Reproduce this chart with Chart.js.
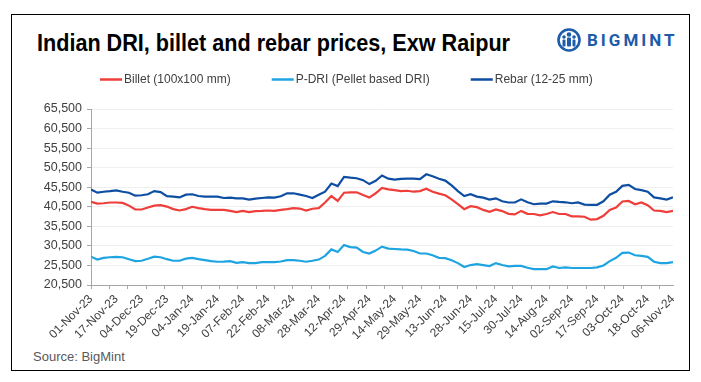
<!DOCTYPE html>
<html>
<head>
<meta charset="utf-8">
<script src="https://cdn.jsdelivr.net/npm/chart.js@4.4.1/dist/chart.umd.min.js"></script>
<style>
html,body{margin:0;padding:0;background:#fff;}
#wrap{position:relative;width:701px;height:382px;overflow:hidden;background:#fff;}
#frame{position:absolute;left:11px;top:14px;width:679px;height:357px;border:1.5px solid #000;box-sizing:border-box;}
#title{position:absolute;left:37px;top:32px;font:bold 23px "Liberation Sans",Arial,sans-serif;color:#000;white-space:nowrap;transform-origin:0 0;line-height:1;}
#logo{position:absolute;left:557px;top:27px;height:26px;display:flex;align-items:center;}
#logoText{font:bold 17px Roboto,"Liberation Sans",sans-serif;color:#1d5cab;letter-spacing:3px;margin-left:6px;}
#source{position:absolute;left:33px;top:349px;font:13px "Liberation Sans",Arial,sans-serif;color:#595959;}
canvas{position:absolute;left:0;top:0;}
</style>
</head>
<body>
<div id="wrap">
  <div id="frame"></div>
  <div id="title">Indian DRI, billet and rebar prices, Exw Raipur</div>
  <div id="logo">
    <svg width="24" height="26" viewBox="0 0 24 26">
      <circle cx="12" cy="13" r="10.5" fill="none" stroke="#1d5cab" stroke-width="2.6"/>
      <circle cx="12" cy="7.5" r="2.3" fill="#1d5cab"/>
      <circle cx="7" cy="10" r="1.8" fill="#1d5cab"/>
      <circle cx="17" cy="10" r="1.8" fill="#1d5cab"/>
      <rect x="10" y="10.5" width="4" height="9" rx="1" fill="#1d5cab"/>
      <rect x="5.5" y="12.5" width="3" height="7" rx="1" fill="#1d5cab"/>
      <rect x="15.5" y="12.5" width="3" height="7" rx="1" fill="#1d5cab"/>
    </svg>
    <span id="logoText">BIGMINT</span>
  </div>
  <div id="source">Source: BigMint</div>
  <canvas id="c" width="701" height="382"></canvas>
</div>
<script>
// ---- data ----
const seriesNames = ["Billet (100x100 mm)", "P-DRI (Pellet based DRI)", "Rebar (12-25 mm)"];
const dateLabels = ["01-Nov-23","17-Nov-23","04-Dec-23","19-Dec-23","04-Jan-24","19-Jan-24","07-Feb-24","22-Feb-24",
  "08-Mar-24","28-Mar-24","12-Apr-24","29-Apr-24","14-May-24","29-May-24","13-Jun-24","28-Jun-24",
  "15-Jul-24","30-Jul-24","14-Aug-24","02-Sep-24","17-Sep-24","03-Oct-24","18-Oct-24","06-Nov-24"];
const yTicks = [20500,25500,30500,35500,40500,45500,50500,55500,60500,65500];

const billet = [41750,41300,41400,41600,41600,41500,40800,39800,39800,40300,40800,40900,40550,39900,39550,39900,
  40500,40150,39900,39700,39700,39700,39450,39150,39450,39150,39400,39450,39550,39450,39700,39900,
  40150,40050,39550,40000,40150,41600,43250,42000,44100,44200,44200,43500,42850,43950,45300,44950,
  44750,44500,44600,44350,44500,45100,44350,43850,43450,42400,41150,39900,40650,40400,39700,39200,
  39800,39400,38700,38550,39450,38700,38650,38300,38650,39150,38650,38650,38050,38050,37950,37200,
  37350,38200,39700,40300,41850,42000,41150,41600,40900,39550,39450,39150,39450];
const pdri = [27750,27000,27450,27600,27700,27600,27100,26600,26700,27200,27750,27600,27100,26700,26700,27250,
  27450,27100,26850,26600,26450,26500,26600,26150,26350,26100,26100,26350,26350,26350,26500,26850,
  26850,26700,26450,26700,27000,27950,29600,28950,30700,30200,30050,28950,28550,29300,30300,29800,
  29700,29600,29550,29200,28550,28550,28100,27450,27350,26850,26100,25100,25600,25850,25600,25350,
  26100,25600,25250,25400,25400,24900,24550,24550,24550,25250,24850,25000,24850,24850,24850,24850,
  25000,25500,26600,27450,28700,28800,28100,27950,27700,26450,26100,26100,26350];
const rebar = [44900,44100,44350,44500,44700,44350,44100,43350,43450,43700,44500,44250,43200,43100,42900,43600,
  43700,43250,43100,43100,43100,42750,42850,42650,42650,42350,42600,42750,42900,42850,43200,43950,
  43950,43600,43250,42750,43600,44350,46450,45800,48150,47950,47800,47300,46300,47150,48500,47700,
  47450,47650,47700,47700,47550,48800,48300,47650,47200,45950,44500,43250,43700,43100,42850,42350,
  42650,41900,41600,41600,42400,41650,41150,41300,41300,41900,41750,41650,41400,41600,41050,41000,
  41000,41900,43600,44350,45850,46100,45050,44750,44350,42900,42650,42350,42900];
const seriesColors = ["#ef3e3a", "#1ea4e0", "#0d4ea3"];

// ---- title / logo fitting ----
(function(){
  const t = document.getElementById('title');
  const w = t.getBoundingClientRect().width;
  t.style.transform = 'scaleX(' + (473 / w) + ')';
})();

const N = billet.length;
const LABEL_EVERY = 4;     // samples between labelled dates
const MARK_EVERY = 2.9;    // samples between axis tick marks
const FONT = '"Liberation Sans", Arial, sans-serif';

const legendPlugin = {
  id: 'customLegend',
  afterDraw(chart) {
    const ctx = chart.ctx;
    const y = 79.5;
    let x = 100;
    ctx.save();
    ctx.font = '12px ' + FONT;
    ctx.textBaseline = 'middle';
    ctx.textAlign = 'left';
    chart.data.datasets.forEach(ds => {
      ctx.strokeStyle = ds.borderColor;
      ctx.lineWidth = 2.5;
      ctx.beginPath();
      ctx.moveTo(x, y);
      ctx.lineTo(x + 22, y);
      ctx.stroke();
      x += 24;
      ctx.fillStyle = '#404040';
      ctx.fillText(ds.label, x, y);
      x += ctx.measureText(ds.label).width + 41;
    });
    ctx.restore();
  }
};

const toPts = arr => arr.map((v, i) => ({x: i, y: v}));
const mk = (k, arr) => ({
  label: seriesNames[k], data: toPts(arr), borderColor: seriesColors[k],
  backgroundColor: seriesColors[k], borderWidth: 2.2, pointRadius: 0, tension: 0, fill: false
});

new Chart(document.getElementById('c').getContext('2d'), {
  type: 'line',
  data: { datasets: [mk(0, billet), mk(1, pdri), mk(2, rebar)] },
  options: {
    responsive: false, animation: false, devicePixelRatio: 1,
    layout: { padding: { top: 109, left: 0, right: 28, bottom: 0 } },
    plugins: { legend: { display: false }, tooltip: { enabled: false } },
    scales: {
      x: {
        type: 'linear', position: 'bottom', min: 0, max: N - 1, weight: 1,
        grid: { display: false, drawTicks: false }, border: { display: false },
        afterBuildTicks: s => { s.ticks = dateLabels.map((l, k) => ({ value: k * LABEL_EVERY })); },
        afterFit: s => { s.height = 93; },
        ticks: { autoSkip: false, maxRotation: 45, minRotation: 45, padding: 3, color: '#404040',
                 font: { size: 12, family: FONT }, callback: (v, i) => dateLabels[i] }
      },
      xt: {
        type: 'linear', position: 'bottom', min: 0, max: N - 1, weight: 0,
        afterBuildTicks: s => { const t = []; for (let k = 0; k * MARK_EVERY <= N - 1; k++) t.push({ value: k * MARK_EVERY }); s.ticks = t; },
        afterFit: s => { s.height = 4; },
        ticks: { display: false },
        grid: { display: true, drawOnChartArea: false, drawTicks: true, tickLength: 4, color: '#a6a6a6' },
        border: { display: true, color: '#a6a6a6' }
      },
      y: {
        min: 20500, max: 65500,
        afterBuildTicks: s => { s.ticks = yTicks.map(v => ({ value: v })); },
        afterFit: s => { s.width = 91; },
        ticks: { padding: 5, color: '#404040', font: { size: 12.5, family: FONT },
                 callback: v => Number(v).toLocaleString('en-US') },
        grid: { color: '#efefef', tickColor: '#a6a6a6', tickLength: 4, lineWidth: 1 },
        border: { color: '#a6a6a6' }
      }
    }
  },
  plugins: [legendPlugin]
});
</script>
</body>
</html>
